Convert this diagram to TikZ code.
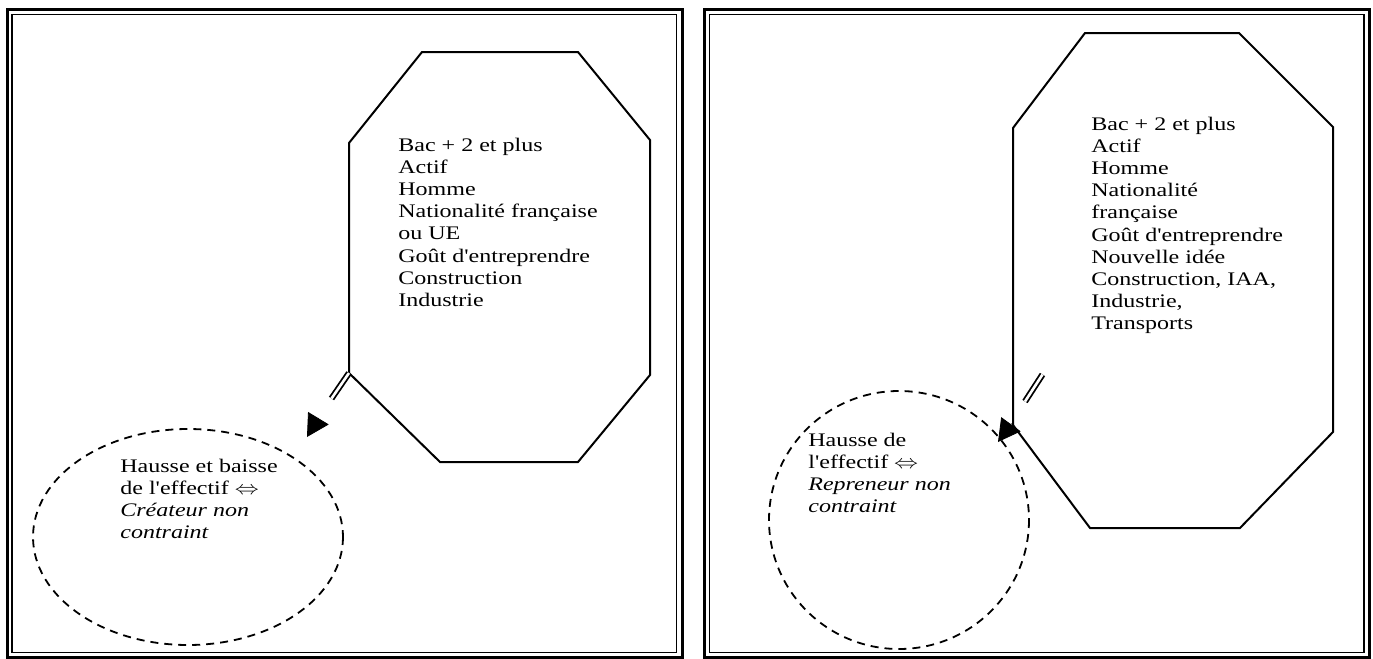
\documentclass[tikz,border=0pt]{standalone}
\usepackage{fontspec}
\setmainfont{Liberation Serif}
\usetikzlibrary{arrows.meta}
\newcommand{\ap}{\textquotesingle}
\begin{document}
\begin{tikzpicture}[x=0.5pt, y=-0.5pt,
    frame/.style={line width=1.5pt},
    inframe/.style={line width=0.8pt},
    octo/.style={line width=1pt},
    blob/.style={line width=0.9pt, dash pattern=on 4pt off 3pt},
    txt/.style={anchor=north west, inner sep=0pt, align=left, yscale=0.8, transform shape,
        font=\fontsize{12}{13.8}\selectfont},
    cut/.style={line width=0.9pt, double, double distance=1.3pt},
    tip/.style={-{Triangle[length=11pt, width=12pt]}}]
    \useasboundingbox (0,0) rectangle (1373,659);

    % panels
    \draw[frame] (7.5,9) rectangle (682.5,657);
    \draw[inframe] (12,14.3) rectangle (676.5,652.5);
    \draw[frame] (704,9) rectangle (1369.5,657);
    \draw[inframe] (709.5,14.3) rectangle (1364,652.5);

    % left: createur
    \coordinate (oa) at (349,373);
    \draw[octo] (349,143) -- (422,52) -- (578,52) -- (650,140) -- (650,375)
        -- (578,462) -- (440,462) -- (oa) -- cycle;
    \node[txt] (profA) at (398,138) {Bac + 2 et plus\\Actif\\Homme\\Nationalité française\\ou UE\\Goût d\ap entreprendre\\Construction\\Industrie};
    \coordinate (ea) at (188,537);
    \draw[blob] (ea) ellipse (155 and 108);
    \node[txt] (effA) at (120,459) {Hausse et baisse\\de l\ap effectif $\Leftrightarrow$\\\textit{Créateur non}\\\textit{contraint}};
    \coordinate (cutA) at (331.5,398.5);
    \draw[cut] (oa) -- (cutA);
    \coordinate (baseA) at (318.5,418);
    \coordinate (tipA) at (307,437);
    \draw[tip] (baseA) -- (tipA);

    % right: repreneur
    \coordinate (ob) at (1013,425);
    \draw[octo] (1013,128) -- (1085,33) -- (1239,33) -- (1333,127) -- (1333,432)
        -- (1240,528) -- (1090,528) -- (ob) -- cycle;
    \node[txt] (profB) at (1091,117) {Bac + 2 et plus\\Actif\\Homme\\Nationalité\\française\\Goût d\ap entreprendre\\Nouvelle idée\\Construction, IAA,\\Industrie,\\Transports};
    \coordinate (eb) at (899,520);
    \draw[blob] (eb) ellipse (130 and 129);
    \node[txt] (effB) at (808,433) {Hausse de\\l\ap effectif $\Leftrightarrow$\\\textit{Repreneur non}\\\textit{contraint}};
    \coordinate (cutB1) at (1042.5,374.5);
    \coordinate (cutB2) at (1025,401.5);
    \draw[cut] (cutB1) -- (cutB2);
    \coordinate (baseB) at (1011.5,423.5);
    \coordinate (tipB) at (998,442);
    \draw[tip] (baseB) -- (tipB);
\end{tikzpicture}
\end{document}
